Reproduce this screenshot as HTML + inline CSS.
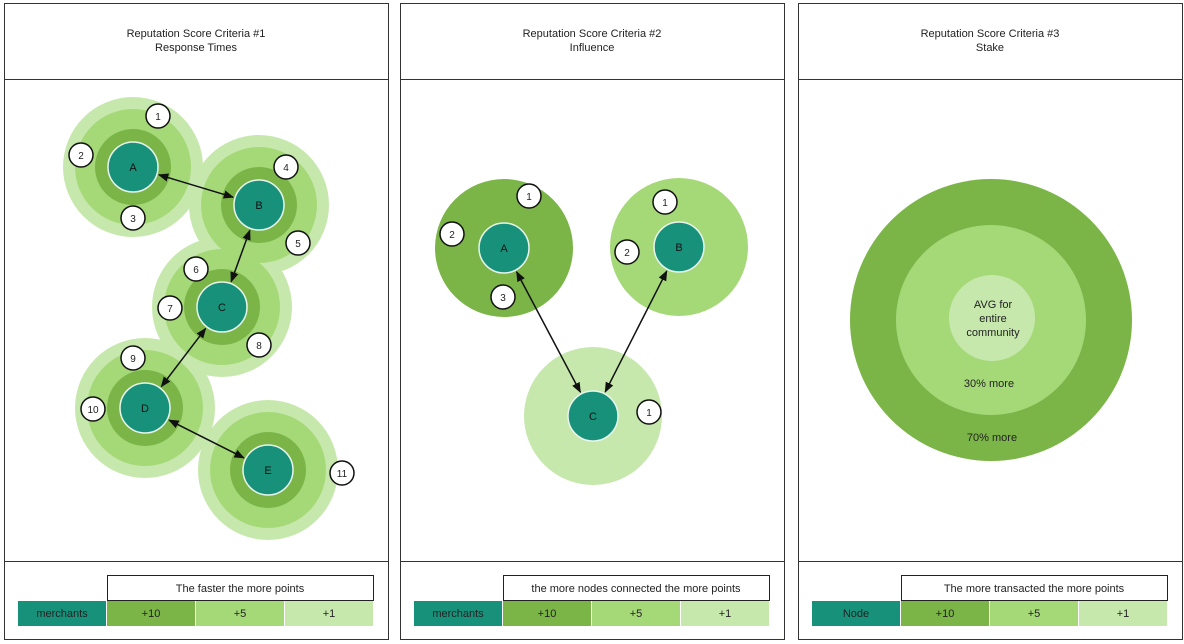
<!DOCTYPE html>
<html><head><meta charset="utf-8"><style>
body{margin:0;background:#fff;}
svg{display:block;font-family:"Liberation Sans",sans-serif;}
</style></head><body>
<svg width="1184" height="644" viewBox="0 0 1184 644">
<defs>
<marker id="ah" viewBox="0 0 10 10" refX="9" refY="5" markerWidth="7" markerHeight="7" orient="auto-start-reverse"><path d="M0,1 L10,5 L0,9 z" fill="#111"/></marker>
</defs>
<g id="root"></g>
</svg>
<script>
const NS='http://www.w3.org/2000/svg';
const root=document.getElementById('root');
const C={teal:'#18917b',dark:'#7bb547',mid:'#a5d978',light:'#c7e8ad'};
function el(tag,attrs,parent,text){const e=document.createElementNS(NS,tag);for(const k in attrs)e.setAttribute(k,attrs[k]);if(text!==undefined)e.textContent=text;(parent||root).appendChild(e);return e;}

const panelXs=[4,400,798];
const panelTitles=[['Reputation Score Criteria #1','Response Times'],['Reputation Score Criteria #2','Influence'],['Reputation Score Criteria #3','Stake']];
const legendCaptions=['The faster the more points','the more nodes connected the more points','The more transacted the more points'];
const legendFirst=['merchants','merchants','Node'];
const legendPoints=['+10','+5','+1'];

panelXs.forEach((px,i)=>{
  const g=el('g',{});
  
  
  el('rect',{x:px+0.5,y:3.5,width:384,height:636,fill:'#fff',stroke:'#333','stroke-width':1},g);
  el('line',{x1:px,x2:px+385,y1:79.5,y2:79.5,stroke:'#333'},g);
  el('line',{x1:px,x2:px+385,y1:561.5,y2:561.5,stroke:'#333'},g);
  const t=el('text',{x:px+192,y:37,'text-anchor':'middle','font-size':11,fill:'#222'},g,panelTitles[i][0]);
  
  
  el('text',{x:px+192,y:51,'text-anchor':'middle','font-size':11,fill:'#222'},g,panelTitles[i][1]);
  // legend
  const lx=px+14;
  const cap=el('rect',{x:lx+89.5,y:575.5,width:266,height:25,fill:'#fff',stroke:'#222','stroke-width':1},g);
  
  
  el('text',{x:lx+222,y:592,'text-anchor':'middle','font-size':11,fill:'#222'},g,legendCaptions[i]);
  const fills=[C.teal,C.dark,C.mid,C.light];
  const labels=[legendFirst[i]].concat(legendPoints);
  for(let k=0;k<4;k++){
    const r=el('rect',{x:lx+k*89,y:601,width:88,height:25,fill:fills[k]},g);
    
    
    el('text',{x:lx+k*89+44,y:617,'text-anchor':'middle','font-size':11,fill:'#222'},g,labels[k]);
  }
});

function node(x,y,label){
  const c=el('circle',{cx:x,cy:y,r:25,fill:C.teal,stroke:'#e8f5ee','stroke-width':1.5});
  
  
  el('text',{x:x,y:y+4,'text-anchor':'middle','font-size':11,fill:'#111'},root,label);
}
function badge(x,y,n){
  const c=el('circle',{cx:x,cy:y,r:12,fill:'#fff',stroke:'#111','stroke-width':1.5});
  
  
  el('text',{x:x,y:y+4,'text-anchor':'middle','font-size':10,fill:'#222'},root,n);
}
function arrow(a,b){
  const dx=b[0]-a[0],dy=b[1]-a[1],d=Math.hypot(dx,dy),ux=dx/d,uy=dy/d,o=27;
  const l=el('line',{x1:a[0]+ux*o,y1:a[1]+uy*o,x2:b[0]-ux*o,y2:b[1]-uy*o,stroke:'#111','stroke-width':1.5,'marker-end':'url(#ah)','marker-start':'url(#ah)'});
  
  
}

// Panel 1
const p1Nodes=[['A',133,167],['B',259,205],['C',222,307],['D',145,408],['E',268,470]];
p1Nodes.forEach(n=>el('circle',{cx:n[1],cy:n[2],r:70,fill:C.light}));
p1Nodes.forEach(n=>el('circle',{cx:n[1],cy:n[2],r:58,fill:C.mid}));
p1Nodes.forEach(n=>el('circle',{cx:n[1],cy:n[2],r:38,fill:C.dark}));
const p1Links=[[0,1],[1,2],[2,3],[3,4]];
p1Nodes.forEach(n=>node(n[1],n[2],n[0]));
p1Links.forEach(l=>arrow([p1Nodes[l[0]][1],p1Nodes[l[0]][2]],[p1Nodes[l[1]][1],p1Nodes[l[1]][2]]));
[[158,116,'1'],[81,155,'2'],[133,218,'3'],[286,167,'4'],[298,243,'5'],[196,269,'6'],[170,308,'7'],[259,345,'8'],[133,358,'9'],[93,409,'10'],[342,473,'11']].forEach(b=>badge(b[0],b[1],b[2]));

// Panel 2
const p2Nodes=[['A',504,248,C.dark],['B',679,247,C.mid],['C',593,416,C.light]];
p2Nodes.forEach(n=>el('circle',{cx:n[1],cy:n[2],r:69,fill:n[3]}));
p2Nodes.forEach(n=>node(n[1],n[2],n[0]));
arrow([504,248],[593,416]);
arrow([679,247],[593,416]);
[[529,196,'1'],[452,234,'2'],[503,297,'3'],[665,202,'1'],[627,252,'2'],[649,412,'1']].forEach(b=>badge(b[0],b[1],b[2]));

// Panel 3
const s1=el('circle',{cx:991,cy:320,r:141,fill:C.dark});


const s2=el('circle',{cx:991,cy:320,r:95,fill:C.mid});


const s3=el('circle',{cx:992,cy:318,r:43,fill:C.light});


[['AVG for',308],['entire',319],['community',334]].forEach((t,i)=>el('text',{x:993,y:[308,322,336][i],'text-anchor':'middle','font-size':11,fill:'#222'},root,t[0]));
el('text',{x:989,y:387,'text-anchor':'middle','font-size':11,fill:'#222'},root,'30% more');
el('text',{x:992,y:441,'text-anchor':'middle','font-size':11,fill:'#222'},root,'70% more');
</script>
</body></html>
